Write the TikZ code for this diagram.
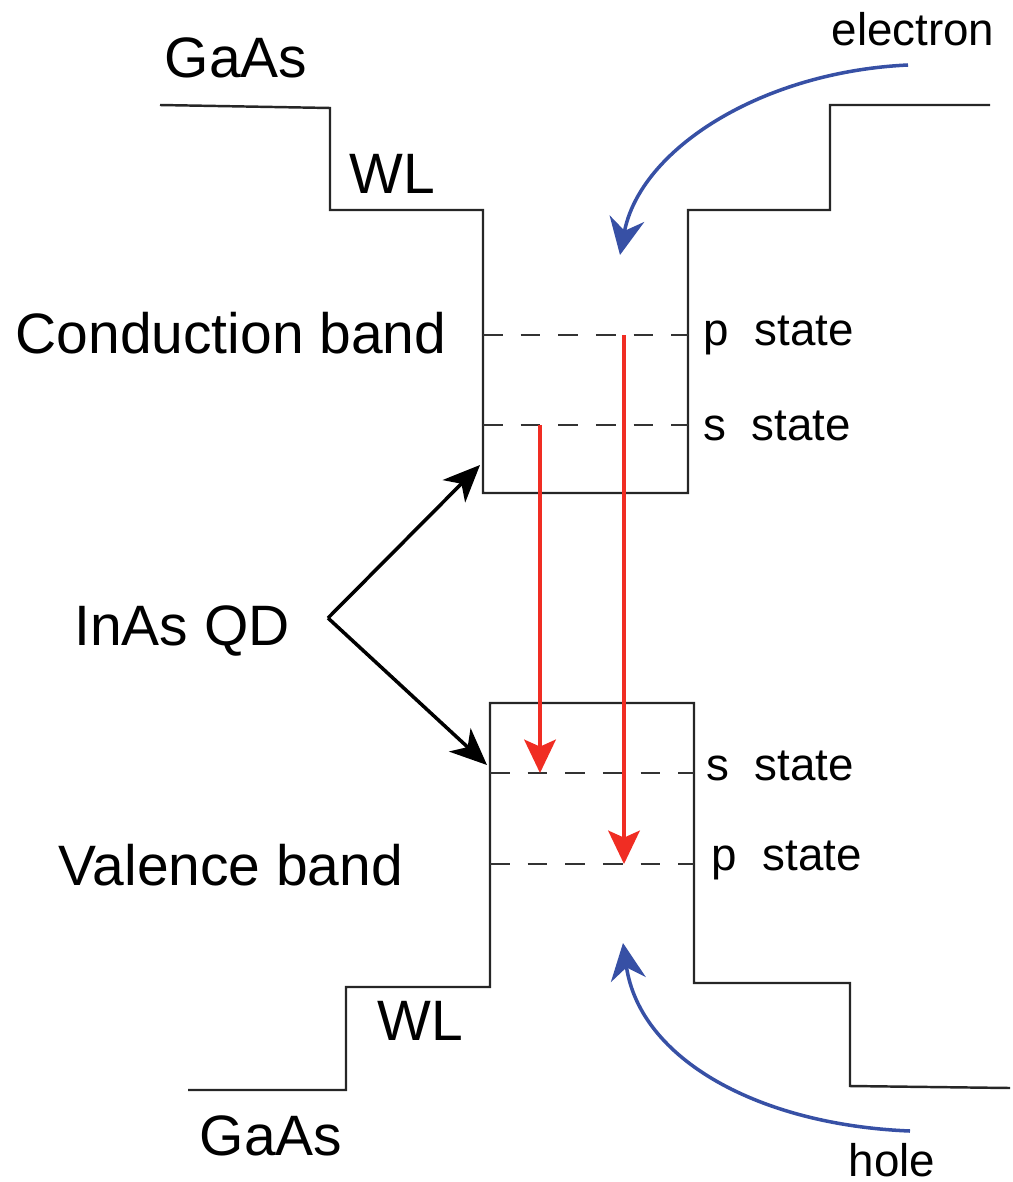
\documentclass[tikz,border=0pt]{standalone}
\usepackage{fontspec}
\setmainfont{Liberation Sans}
\usetikzlibrary{arrows.meta, positioning, calc}

\definecolor{emred}{RGB}{240,45,35}
\definecolor{carrierblue}{RGB}{55,80,165}

\begin{document}
\begin{tikzpicture}[x=0.01cm, y=-0.01cm,
    bandedge/.style={line width=0.7pt, black!85},
    level/.style={line width=0.65pt, black!80, dash pattern=on 5.6pt off 5.1pt},
    biglabel/.style={font=\fontsize{16.2}{19}\selectfont, inner sep=0pt, anchor=base},
    smalllabel/.style={font=\fontsize{13}{16}\selectfont, inner sep=0pt, anchor=base west},
    emission/.style={emred, line width=0.9pt, -{Stealth[length=9.5pt, width=9pt, inset=2pt]}},
    qdarrow/.style={black, line width=1pt, -{Stealth[length=10.5pt, width=9pt, inset=3pt]}},
    carrier/.style={carrierblue, line width=1pt, -{Stealth[length=10.5pt, width=10pt, inset=3.5pt]}}]
    \useasboundingbox (0,0) rectangle (1013,1182);

    % band edges
    \draw[bandedge] (160,105) -- (330,108) -- (330,210) -- (483,210) -- (483,493)
        -- (688,493) -- (688,210) -- (830,210) -- (830,105) -- (990,105);
    \draw[bandedge] (188,1090) -- (346,1090) -- (346,987) -- (490,987) -- (490,703)
        -- (694,703) -- (694,983) -- (850,983) -- (850,1086) -- (1010,1088);

    % confined levels
    \draw[level] (483,335) -- (688,335);
    \draw[level] (483,425) -- (688,425);
    \draw[level] (490,773) -- (694,773);
    \draw[level] (490,864) -- (694,864);

    % labels
    \node[biglabel] (gaastop) at (236,78) {GaAs};
    \node[biglabel] (wltop) at (392,193) {WL};
    \node[biglabel] (cband) at (231,353) {Conduction band};
    \node[biglabel] (inasqd) at (182,645) {InAs QD};
    \node[biglabel] (vband) at (231,885) {Valence band};
    \node[biglabel] (wlbot) at (420,1040) {WL};
    \node[biglabel] (gaasbot) at (271,1155) {GaAs};
    \node[smalllabel] (cp) at (703,345) {p\ \ state};
    \node[smalllabel] (cs) at (703,440) {s\ \ state};
    \node[smalllabel] (vs) at (706,780) {s\ \ state};
    \node[smalllabel] (vp) at (711,870) {p\ \ state};
    \node[font=\fontsize{13}{16}\selectfont, inner sep=0pt, anchor=base] (electron) at (913,46) {electron};
    \node[font=\fontsize{13}{16}\selectfont, inner sep=0pt, anchor=base] (hole) at (892,1176) {hole};

    % arrow ends
    \coordinate (apex) at (328,618);
    \coordinate (qdcb) at (480,465);
    \coordinate (qdvb) at (487,765);
    \coordinate (ctops) at (540,425);
    \coordinate (vtops) at (540,773);
    \coordinate (ctopp) at (624,335);
    \coordinate (vtopp) at (624,864);
    \coordinate (estart) at (908,65);
    \coordinate (etip) at (620,255);
    \coordinate (hstart) at (910,1131);
    \coordinate (htip) at (623,943);

    \draw[qdarrow] (apex) -- (qdcb);
    \draw[qdarrow] (apex) -- (qdvb);
    \draw[emission] (ctops) -- (vtops);
    \draw[emission] (ctopp) -- (vtopp);
    \draw[carrier] (estart) .. controls (760,72) and (640,150) .. (etip);
    \draw[carrier] (hstart) .. controls (760,1125) and (640,1060) .. (htip);
\end{tikzpicture}
\end{document}
